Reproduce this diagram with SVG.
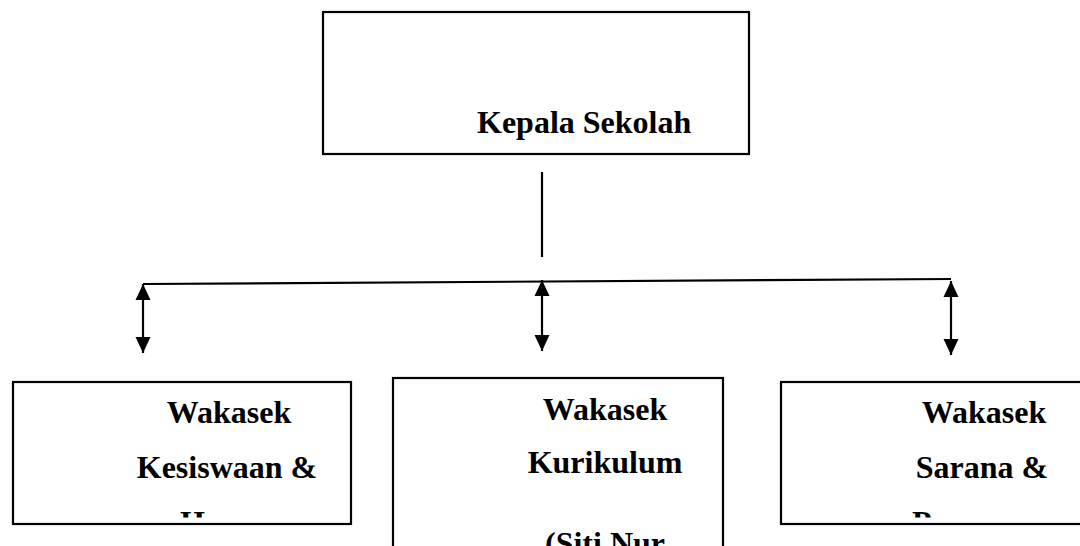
<svg xmlns="http://www.w3.org/2000/svg" width="1080" height="546" viewBox="0 0 1080 546">
  <style>
    .box { fill: #ffffff; stroke: #000000; stroke-width: 2.2; }
    .lbl { font-family: "Liberation Serif", "Times New Roman", serif; font-weight: bold; font-size: 32px; fill: #000000; }
    .conn { stroke: #000000; stroke-width: 2.2; fill: none; }
    .arr { stroke: #000000; stroke-width: 2.2; fill: none; marker-start: url(#head); marker-end: url(#head); }
  </style>
  <defs>
    <marker id="head" markerUnits="userSpaceOnUse" markerWidth="17" markerHeight="17" viewBox="0 0 17 17" refX="16" refY="8.5" orient="auto-start-reverse">
      <path d="M0,1 L16,8.5 L0,16 Z" fill="#000000"/>
    </marker>
    <clipPath id="clipL"><rect x="14" y="383" width="336" height="134.5"/></clipPath>
    <clipPath id="clipM"><rect x="394" y="379" width="328" height="170"/></clipPath>
    <clipPath id="clipR"><rect x="782" y="383" width="300" height="134.5"/></clipPath>
  </defs>

  <g id="connectors">
    <line class="conn" x1="542" y1="172" x2="542" y2="257"/>
    <line class="conn" x1="143" y1="284" x2="951" y2="279"/>
    <line class="arr" x1="143" y1="284" x2="143" y2="353"/>
    <line class="arr" x1="542" y1="280" x2="542" y2="351"/>
    <line class="arr" x1="951" y1="281" x2="951" y2="355"/>
  </g>

  <g id="kepala-sekolah">
    <rect class="box" x="323" y="12" width="426" height="142"/>
    <text class="lbl" x="477" y="133">Kepala Sekolah</text>
  </g>

  <g id="wakasek-kesiswaan">
    <rect class="box" x="13" y="382" width="338" height="142"/>
    <g clip-path="url(#clipL)">
      <text class="lbl" x="229" y="423" text-anchor="middle">Wakasek</text>
      <text class="lbl" x="227" y="478" text-anchor="middle">Kesiswaan &amp;</text>
      <text class="lbl" x="229" y="533" text-anchor="middle">Humas</text>
    </g>
  </g>

  <g id="wakasek-kurikulum">
    <rect class="box" x="393" y="378" width="330" height="180"/>
    <g clip-path="url(#clipM)">
      <text class="lbl" x="605" y="420" text-anchor="middle">Wakasek</text>
      <text class="lbl" x="605" y="473" text-anchor="middle">Kurikulum</text>
      <text class="lbl" x="605" y="554" text-anchor="middle">(Siti Nur</text>
    </g>
  </g>

  <g id="wakasek-sarana">
    <rect class="box" x="781" y="382" width="310" height="142"/>
    <g clip-path="url(#clipR)">
      <text class="lbl" x="984" y="423" text-anchor="middle">Wakasek</text>
      <text class="lbl" x="982" y="478" text-anchor="middle">Sarana &amp;</text>
      <text class="lbl" x="983" y="533" text-anchor="middle">Prasarana</text>
    </g>
  </g>
</svg>
